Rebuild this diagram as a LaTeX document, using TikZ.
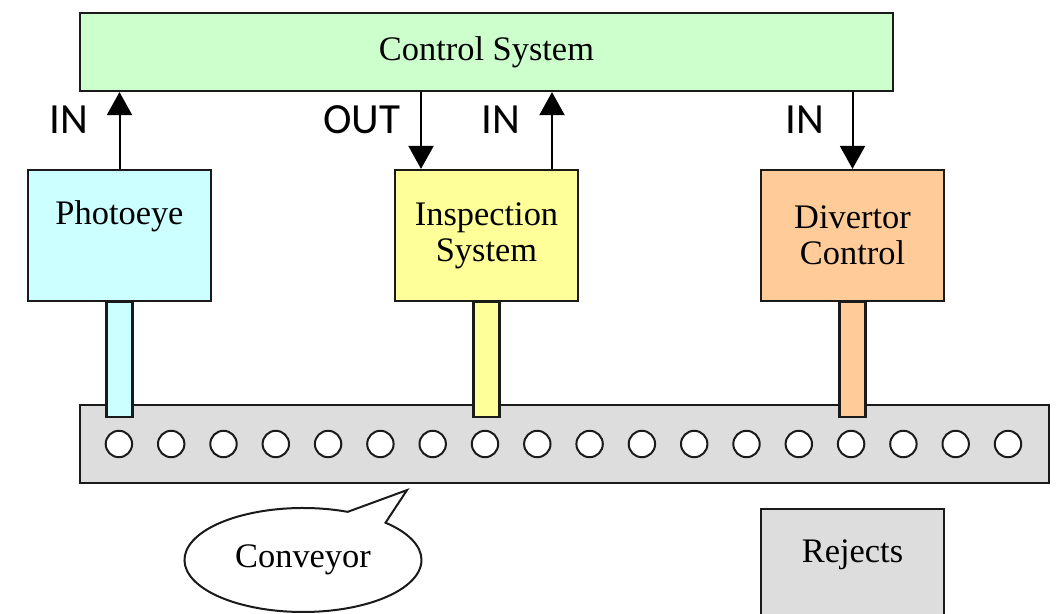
\documentclass[tikz,border=0pt]{standalone}
\usepackage{fontspec}
\setmainfont{Liberation Serif}
\newfontfamily\sigfont{Carlito}
\usetikzlibrary{arrows.meta, shapes.callouts, calc}
\definecolor{ctrlfill}{HTML}{CCFFCC}
\definecolor{eyefill}{HTML}{CCFFFF}
\definecolor{inspfill}{HTML}{FFFF99}
\definecolor{divfill}{HTML}{FFCC99}
\definecolor{beltfill}{HTML}{DDDDDD}
\definecolor{boxedge}{HTML}{1A1A1A}

\begin{document}
\begin{tikzpicture}[x=0.5pt, y=-0.5pt,
  blk/.style={rectangle, draw=boxedge, line width=1.1pt, align=center,
              font=\fontsize{17.2}{18}\selectfont},
  dev/.style={blk, minimum width=91.5pt, minimum height=65.5pt},
  stem/.style={draw=boxedge, line width=1.1pt},
  roller/.style={circle, draw=boxedge, fill=white, line width=1pt,
                 minimum size=13.2pt, inner sep=0pt},
  sig/.style={draw=black, line width=1pt, -{Triangle[length=11.5pt, width=12.5pt]}},
  io/.style={font=\sigfont\fontsize{21.5}{24}\selectfont},
]
\useasboundingbox (0,0) rectangle (1056,614);
\clip (0,0) rectangle (1056,614);
\node[blk, fill=ctrlfill, minimum width=406.5pt, minimum height=39pt] (ctrl) at (486.5,52) {Control System};
\node[dev, fill=eyefill] (photo) at (119.5,235.5) {Photoeye\\[5pt]\phantom{P}};
\node[dev, fill=inspfill] (insp) at (486.5,235.5) {Inspection\\System};
\node[dev, fill=divfill] (div) at (852.5,235.5) {Divertor\\Control};
\node[dev, fill=beltfill] (rej) at (852.5,574.5) {Rejects\\[5pt]\phantom{R}};
% conveyor belt with its rollers
\node[blk, fill=beltfill, minimum width=484.5pt, minimum height=39pt] (conv) at (564.5,444) {};
\draw[stem, fill=eyefill] ($(photo.south)+(-13,0)$) rectangle ($(photo.south |- conv.north)+(13,13)$);
\draw[stem, fill=inspfill] ($(insp.south)+(-13,0)$) rectangle ($(insp.south |- conv.north)+(13,13)$);
\draw[stem, fill=divfill] ($(div.south)+(-13,0)$) rectangle ($(div.south |- conv.north)+(13,13)$);
\foreach \i in {0,...,17}
  \node[roller] (roll\i) at ($(conv.west)+(40+52.3*\i,0)$) {};
\coordinate (tip) at ($(conv.south)+(-157.5,6)$);
\node[ellipse callout, draw=boxedge, line width=1pt, fill=white, font=\fontsize{17.2}{18}\selectfont,
      minimum width=118.5pt, minimum height=52pt, callout absolute pointer={(tip)},
      callout pointer arc=22] (callout) at (303,560) {Conveyor};
% signals to and from the control system
\coordinate (inspOut) at ($(insp.north)+(-65.5,0)$);
\coordinate (inspIn) at ($(insp.north)+(65.5,0)$);
\draw[sig] (photo.north) -- (photo.north |- ctrl.south);
\draw[sig] (inspOut |- ctrl.south) -- (inspOut);
\draw[sig] (inspIn) -- (inspIn |- ctrl.south);
\draw[sig] (div.north |- ctrl.south) -- (div.north);
\node[io] (inEye) at (69,120) {IN};
\node[io] (outInsp) at (362,120) {OUT};
\node[io] (inInsp) at (501,120) {IN};
\node[io] (inDiv) at (805,120) {IN};
\end{tikzpicture}
\end{document}
